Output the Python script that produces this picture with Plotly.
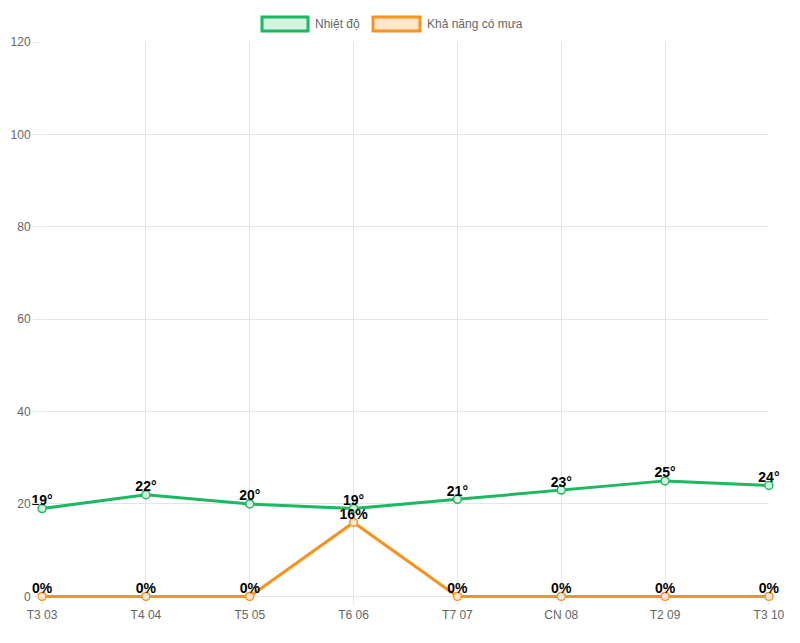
import plotly.graph_objects as go

days = ["T3 03", "T4 04", "T5 05", "T6 06", "T7 07", "CN 08", "T2 09", "T3 10"]
temperature = [19, 22, 20, 19, 21, 23, 25, 24]
rain_chance = [0, 0, 0, 16, 0, 0, 0, 0]

GREEN = "#1db860"
ORANGE = "#f7931e"
GRID = "#e5e5e5"
FONT = "Liberation Sans, Arial, sans-serif"

fig = go.Figure()

series = [
    ("Nhiệt độ", temperature, [f"{t}°" for t in temperature], GREEN, "#d4f3e1"),
    ("Khả năng có mưa", rain_chance, [f"{r}%" for r in rain_chance], ORANGE, "#fde6cc"),
]

for name, values, labels, color, fill in series:
    fig.add_trace(
        go.Scatter(
            x=days,
            y=values,
            name=name,
            mode="lines+markers",
            line=dict(color=color, width=3),
            marker=dict(size=8, color=fill, line=dict(color=color, width=1.5)),
            cliponaxis=False,
        )
    )

# data labels as a separate text-only layer so they sit close to the points
for name, values, labels, color, fill in series:
    fig.add_trace(
        go.Scatter(
            x=days,
            y=values,
            mode="text",
            text=labels,
            textposition="top center",
            textfont=dict(family=FONT, size=14, color="#000000", weight="bold"),
            cliponaxis=False,
            hoverinfo="skip",
        )
    )

# Chart.js-style legend boxes drawn at the top
legend_items = [
    (0.3026, 0.3659, "#d4f3e1", GREEN, "Nhiệt độ"),
    (0.4553, 0.5199, "#fde6cc", ORANGE, "Khả năng có mưa"),
]
for x0, x1, fill, border, label in legend_items:
    fig.add_shape(
        type="rect", xref="paper", yref="paper",
        x0=x0, x1=x1, y0=1.0197, y1=1.0447,
        fillcolor=fill, line=dict(color=border, width=3),
    )
    fig.add_annotation(
        xref="paper", yref="paper", x=x1 + 0.007, y=1.0322,
        text=label, showarrow=False, xanchor="left", yanchor="middle",
        font=dict(family=FONT, size=12, color="#666666"),
    )

# page body adds an 8px offset, so margins are shifted to compensate
fig.update_layout(
    width=800,
    height=643,
    paper_bgcolor="white",
    plot_bgcolor="white",
    showlegend=False,
    margin=dict(l=34, r=39, t=34, b=50),
    font=dict(family=FONT, size=12, color="#666666"),
)
fig.update_xaxes(
    automargin=False,
    showgrid=True, gridcolor=GRID, gridwidth=1,
    ticks="outside", ticklen=3, tickcolor=GRID,
    showline=False, zeroline=False,
    range=[-0.001, 7.001],
    tickfont=dict(size=12, color="#666666"),
)
fig.update_yaxes(
    automargin=False,
    range=[-1, 120], tickvals=[0, 20, 40, 60, 80, 100, 120],
    showgrid=True, gridcolor=GRID, gridwidth=1,
    ticks="outside", ticklen=8, tickcolor=GRID,
    showline=False, zeroline=False,
    tickfont=dict(size=12, color="#666666"),
)

fig.write_html("out.html")
